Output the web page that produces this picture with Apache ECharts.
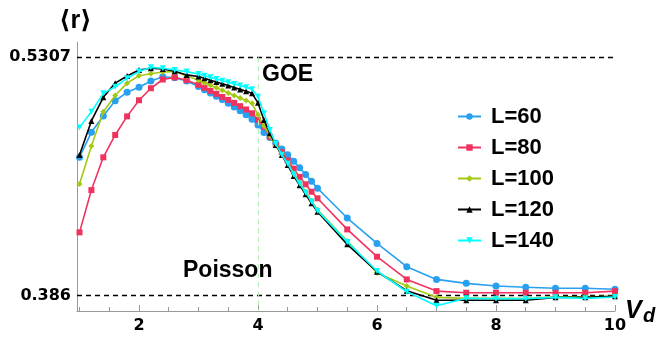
<!DOCTYPE html>
<html>
<head>
<meta charset="utf-8">
<script src="https://cdn.jsdelivr.net/npm/echarts@6/dist/echarts.min.js"></script>
<style>
  html, body { margin: 0; padding: 0; background: #fff; }
  #chart { width: 659px; height: 337px; }
</style>
</head>
<body>
<div id="chart"></div>
<script>
// V_d grid (denser around the transition)
const vd = [1.0, 1.2, 1.4, 1.6, 1.8, 2.0, 2.2, 2.4, 2.6, 2.8,
  3.0, 3.1, 3.2, 3.3, 3.4, 3.5, 3.6, 3.7, 3.8, 3.9,
  4.0, 4.1, 4.2, 4.3, 4.4, 4.5, 4.6, 4.7, 4.8, 4.9, 5.0,
  5.5, 6.0, 6.5, 7.0, 7.5, 8.0, 8.5, 9.0, 9.5, 10];

const r60 = [0.4700, 0.4851, 0.4950, 0.5043, 0.5094, 0.5125, 0.5163, 0.5189, 0.5183, 0.5163,
  0.5130, 0.5110, 0.5090, 0.5070, 0.5050, 0.5028, 0.5005, 0.4982, 0.4958, 0.4930,
  0.4895, 0.4850, 0.4820, 0.4785, 0.4750, 0.4715, 0.4675, 0.4635, 0.4595, 0.4553, 0.4511,
  0.4330, 0.4176, 0.4034, 0.3957, 0.3933, 0.3917, 0.3909, 0.3903, 0.3903, 0.3897];
const r80 = [0.4243, 0.4500, 0.4699, 0.4835, 0.4948, 0.5046, 0.5119, 0.5172, 0.5185, 0.5168,
  0.5140, 0.5122, 0.5103, 0.5085, 0.5066, 0.5048, 0.5030, 0.5010, 0.4990, 0.4967,
  0.4926, 0.4885, 0.4824, 0.4775, 0.4730, 0.4680, 0.4630, 0.4580, 0.4535, 0.4490, 0.4450,
  0.4261, 0.4095, 0.3957, 0.3886, 0.3876, 0.3876, 0.3876, 0.3876, 0.3876, 0.3886];
const r100 = [0.4537, 0.4768, 0.4976, 0.5075, 0.5150, 0.5195, 0.5207, 0.5218, 0.5220, 0.5195,
  0.5168, 0.5153, 0.5137, 0.5122, 0.5106, 0.5090, 0.5075, 0.5060, 0.5045, 0.5027,
  0.4956, 0.4890, 0.4830, 0.4770, 0.4715, 0.4660, 0.4600, 0.4545, 0.4490, 0.4435, 0.4380,
  0.4190, 0.3998, 0.3917, 0.3848, 0.3842, 0.3842, 0.3840, 0.3851, 0.3851, 0.3855];
const r120 = [0.4713, 0.4920, 0.5064, 0.5150, 0.5193, 0.5230, 0.5240, 0.5236, 0.5222, 0.5200,
  0.5190, 0.5180, 0.5168, 0.5157, 0.5146, 0.5135, 0.5124, 0.5112, 0.5100, 0.5088,
  0.5030, 0.4926, 0.4845, 0.4774, 0.4713, 0.4652, 0.4585, 0.4530, 0.4475, 0.4420, 0.4368,
  0.4170, 0.4004, 0.3888, 0.3830, 0.3830, 0.3830, 0.3830, 0.3848, 0.3848, 0.3855];
const r140 = [0.4881, 0.4976, 0.5088, 0.5128, 0.5180, 0.5220, 0.5246, 0.5240, 0.5230, 0.5220,
  0.5205, 0.5195, 0.5185, 0.5175, 0.5165, 0.5155, 0.5145, 0.5135, 0.5125, 0.5113,
  0.5067, 0.4967, 0.4865, 0.4780, 0.4715, 0.4660, 0.4595, 0.4540, 0.4485, 0.4430, 0.4375,
  0.4185, 0.4008, 0.3882, 0.3797, 0.3842, 0.3840, 0.3840, 0.3848, 0.3842, 0.3850];

const seriesNames = ['L=60', 'L=80', 'L=100', 'L=120', 'L=140'];
const goeValue = 0.5307;
const poissonValue = 0.386;
const xTicks = [1, 1.5, 2, 2.5, 3, 3.5, 4, 4.5, 5, 5.5, 6, 6.5, 7, 7.5, 8, 8.5, 9, 9.5, 10];
const xLabels = [2, 4, 6, 8, 10];

const X_MIN = 0.958, X_MAX = 10, Y_MIN = 0.3765, Y_MAX = 0.540;
const tickFont = 'DejaVu Sans';
const textFont = 'Liberation Sans, Arial, DejaVu Sans';

const pair = (ys) => vd.map((x, i) => [x, ys[i]]);

const styles = [
  { color: '#28a0f0', symbol: 'circle', size: 7, rotate: 0 },
  { color: '#f0325f', symbol: 'rect', size: 6, rotate: 0 },
  { color: '#a5c814', symbol: 'diamond', size: 6, rotate: 0 },
  { color: '#000000', symbol: 'triangle', size: 6, rotate: 0 },
  { color: '#00ffff', symbol: 'triangle', size: 6, rotate: 180 }
];
const values = [r60, r80, r100, r120, r140];

const series = values.map((ys, i) => ({
  name: seriesNames[i],
  type: 'line',
  data: pair(ys),
  symbol: styles[i].symbol,
  symbolSize: styles[i].size,
  symbolRotate: styles[i].rotate,
  showAllSymbol: true,
  color: styles[i].color,
  lineStyle: { width: 1.6, color: styles[i].color },
  itemStyle: { color: styles[i].color },
  z: 3 + i
}));

// GOE / Poisson reference lines and the V_d = 4 marker
series.push({
  type: 'line',
  data: [],
  silent: true,
  z: 2,
  markLine: {
    symbol: 'none',
    silent: true,
    precision: 4,
    label: { show: false },
    animation: false,
    data: [
      { yAxis: goeValue, lineStyle: { color: '#000', type: [5, 4], width: 1.4 } },
      { yAxis: poissonValue, lineStyle: { color: '#000', type: [5, 4], width: 1.4 } },
      [
        { coord: [4, goeValue], lineStyle: { color: '#b8f0b8', type: [5, 4], width: 1.2 } },
        { coord: [4, Y_MIN] }
      ]
    ]
  }
});

const chart = echarts.init(document.getElementById('chart'), null, { renderer: 'canvas' });
chart.setOption({
  animation: false,
  backgroundColor: '#fff',
  grid: { left: 77, right: 44, top: 42, bottom: 26 },
  legend: {
    orient: 'vertical',
    left: 452,
    top: 96,
    itemWidth: 23,
    itemHeight: 8,
    itemGap: 0,
    selectedMode: false,
    data: seriesNames,
    textStyle: {
      fontFamily: textFont,
      fontWeight: 'bold',
      fontSize: 22,
      lineHeight: 31,
      color: '#000',
      padding: [0, 0, 0, 5]
    }
  },
  xAxis: [
    {
      type: 'value',
      min: X_MIN,
      max: X_MAX,
      splitLine: { show: false },
      axisLine: { show: true, lineStyle: { color: '#999', width: 1 } },
      axisTick: { show: true, inside: true, length: 4, customValues: xTicks, lineStyle: { color: '#999' } },
      axisLabel: {
        customValues: xLabels,
        margin: 7,
        color: '#000',
        fontFamily: tickFont,
        fontWeight: 'bold',
        fontSize: 16
      }
    },
    {
      type: 'value',
      min: X_MIN,
      max: X_MAX,
      position: 'bottom',
      splitLine: { show: false },
      axisLine: { show: false },
      axisTick: { show: true, inside: true, length: 6, customValues: xLabels, lineStyle: { color: '#999' } },
      axisLabel: { show: false }
    }
  ],
  yAxis: {
    type: 'value',
    min: Y_MIN,
    max: Y_MAX,
    splitLine: { show: false },
    axisLine: { show: true, lineStyle: { color: '#999', width: 1 } },
    axisTick: { show: false },
    axisLabel: {
      customValues: [poissonValue, goeValue],
      formatter: (v) => String(v),
      margin: 6,
      color: '#000',
      fontFamily: tickFont,
      fontWeight: 'bold',
      fontSize: 16
    }
  },
  graphic: [
    { type: 'text', x: 59, y: 21, style: { text: '\u27e8r\u27e9', font: 'bold 25px ' + textFont, fill: '#000', verticalAlign: 'middle' } },
    { type: 'text', x: 262, y: 75, style: { text: 'GOE', font: 'bold 23px ' + textFont, fill: '#000', verticalAlign: 'middle' } },
    { type: 'text', x: 183, y: 271, style: { text: 'Poisson', font: 'bold 23px ' + textFont, fill: '#000', verticalAlign: 'middle' } },
    { type: 'text', x: 625, y: 311, style: { text: 'V', font: 'italic bold 25px ' + textFont, fill: '#000', verticalAlign: 'middle' } },
    { type: 'text', x: 643, y: 316, style: { text: 'd', font: 'italic bold 20px ' + textFont, fill: '#000', verticalAlign: 'middle' } }
  ],
  series: series
});
window.addEventListener('resize', () => chart.resize());
</script>
</body>
</html>
